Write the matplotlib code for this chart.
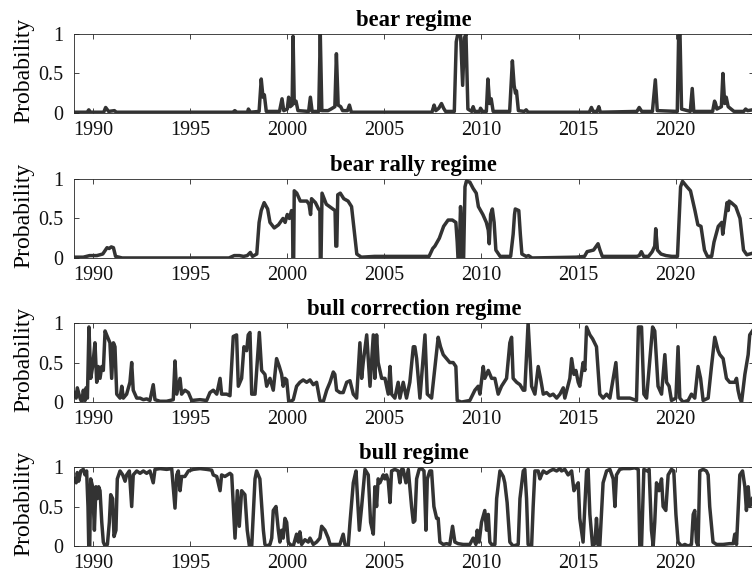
import matplotlib
matplotlib.use("Agg")
import matplotlib.pyplot as plt

plt.rcParams["font.family"] = ["Liberation Serif", "DejaVu Serif"]

# regime probabilities (decimal year, probability)
bear_years = [1989.0, 1989.7, 1989.78, 1989.87, 1990.55, 1990.65, 1990.8, 1991.1, 1991.2, 1997.2, 1997.3, 1997.4,
              1997.95, 1998.0, 1998.1, 1998.55, 1998.66, 1998.75, 1998.82, 1998.92, 1999.6, 1999.73, 1999.82, 2000.0,
              2000.07, 2000.15, 2000.25, 2000.3, 2000.36, 2000.45, 2000.55, 2001.1, 2001.19, 2001.28, 2001.62, 2001.7,
              2001.78, 2002.1, 2002.25, 2002.45, 2002.53, 2002.62, 2002.75, 2002.85, 2003.1, 2003.2, 2003.3, 2007.45,
              2007.56, 2007.65, 2007.8, 2007.94, 2008.05, 2008.15, 2008.6, 2008.7, 2008.78, 2008.92, 2009.03, 2009.12,
              2009.2, 2009.3, 2009.5, 2009.57, 2009.65, 2009.9, 2009.95, 2010.05, 2010.25, 2010.33, 2010.42, 2010.5,
              2010.6, 2011.45, 2011.59, 2011.68, 2011.75, 2011.8, 2011.9, 2012.2, 2012.3, 2012.4, 2015.55, 2015.66,
              2015.75, 2015.95, 2016.04, 2016.12, 2018.0, 2018.12, 2018.25, 2018.8, 2018.95, 2019.05, 2020.08, 2020.15,
              2020.22, 2020.3, 2020.75, 2020.85, 2020.93, 2021.9, 2022.0, 2022.05, 2022.12, 2022.35, 2022.43, 2022.52,
              2022.6, 2022.7, 2022.85, 2023.0, 2023.5, 2023.6, 2023.7, 2023.95]
bear_prob = [0.01, 0.01, 0.04, 0.01, 0.01, 0.07, 0.02, 0.03, 0.01, 0.01, 0.03, 0.01,
             0.01, 0.05, 0.01, 0.02, 0.43, 0.2, 0.23, 0.02, 0.02, 0.18, 0.03, 0.05,
             0.2, 0.08, 0.1, 0.97, 0.12, 0.15, 0.03, 0.02, 0.2, 0.02, 0.02, 1.0,
             0.03, 0.03, 0.05, 0.08, 0.75, 0.1, 0.08, 0.03, 0.03, 0.1, 0.01, 0.01,
             0.1, 0.03, 0.06, 0.12, 0.06, 0.02, 0.02, 0.9, 1.0, 1.0, 0.35, 0.95,
             1.0, 0.05, 0.02, 0.08, 0.02, 0.02, 0.06, 0.02, 0.02, 0.43, 0.12, 0.18,
             0.02, 0.02, 0.66, 0.35, 0.25, 0.28, 0.03, 0.02, 0.04, 0.01, 0.01, 0.07,
             0.02, 0.02, 0.08, 0.01, 0.02, 0.07, 0.02, 0.02, 0.42, 0.03, 0.02, 0.98,
             1.0, 0.05, 0.02, 0.31, 0.02, 0.02, 0.15, 0.12, 0.05, 0.08, 0.5, 0.12,
             0.2, 0.08, 0.05, 0.02, 0.02, 0.05, 0.03, 0.04]

rally_years = [1989.0, 1989.5, 1989.82, 1990.2, 1990.5, 1990.72, 1990.83, 1990.94, 1991.05, 1991.16, 1991.5, 1997.0,
               1997.27, 1997.54, 1997.75, 1997.94, 1998.1, 1998.21, 1998.43, 1998.55, 1998.66, 1998.81, 1998.99,
               1999.11, 1999.33, 1999.55, 1999.78, 1999.89, 2000.0, 2000.11, 2000.22, 2000.27, 2000.29, 2000.33,
               2000.36, 2000.49, 2000.67, 2001.01, 2001.12, 2001.2, 2001.25, 2001.45, 2001.61, 2001.68, 2001.7,
               2001.74, 2001.79, 2002.01, 2002.35, 2002.46, 2002.5, 2002.55, 2002.6, 2002.73, 2002.91, 2003.13,
               2003.31, 2003.47, 2003.58, 2003.81, 2004.5, 2006.6, 2007.3, 2007.49, 2007.6, 2007.83, 2008.05, 2008.28,
               2008.5, 2008.68, 2008.75, 2008.79, 2008.85, 2008.92, 2008.98, 2009.03, 2009.08, 2009.15, 2009.22,
               2009.4, 2009.57, 2009.73, 2009.84, 2010.07, 2010.25, 2010.35, 2010.4, 2010.47, 2010.56, 2010.65,
               2010.74, 2010.96, 2011.5, 2011.63, 2011.7, 2011.74, 2011.92, 2012.0, 2012.08, 2012.3, 2012.42, 2012.6,
               2014.88, 2015.3, 2015.44, 2015.77, 2016.0, 2016.1, 2016.22, 2018.0, 2018.12, 2018.23, 2018.35, 2018.6,
               2018.79, 2018.92, 2018.97, 2019.06, 2019.24, 2019.5, 2019.8, 2020.09, 2020.18, 2020.25, 2020.35,
               2020.58, 2020.76, 2020.99, 2021.14, 2021.3, 2021.48, 2021.63, 2021.85, 2021.97, 2022.19, 2022.37,
               2022.42, 2022.53, 2022.64, 2022.7, 2022.75, 2022.86, 2023.09, 2023.31, 2023.49, 2023.66, 2023.95]
rally_prob = [0.01, 0.01, 0.03, 0.03, 0.05, 0.13, 0.12, 0.14, 0.13, 0.02, 0.0, 0.0,
              0.03, 0.03, 0.02, 0.03, 0.07, 0.02, 0.05, 0.45, 0.6, 0.7, 0.62,
              0.45, 0.38, 0.42, 0.5, 0.45, 0.55, 0.5, 0.6, 0.55, 0.0, 0.0,
              0.85, 0.82, 0.72, 0.72, 0.68, 0.55, 0.75, 0.7, 0.62, 0.6, 0.0,
              0.0, 0.82, 0.68, 0.62, 0.6, 0.15, 0.15, 0.8, 0.82, 0.75, 0.72,
              0.65, 0.3, 0.05, 0.01, 0.02, 0.02, 0.02, 0.12, 0.15, 0.25, 0.4, 0.48,
              0.48, 0.45, 0.2, 0.0, 0.0, 0.65, 0.4, 0.0, 0.0, 0.9, 0.97,
              0.96, 0.88, 0.82, 0.65, 0.55, 0.45, 0.35, 0.18, 0.55, 0.62, 0.45,
              0.1, 0.02, 0.02, 0.3, 0.55, 0.62, 0.6, 0.3, 0.05, 0.02, 0.03, 0.0,
              0.01, 0.02, 0.08, 0.1, 0.18, 0.1, 0.02, 0.02, 0.03, 0.08, 0.02, 0.02,
              0.08, 0.15, 0.37, 0.1, 0.05, 0.03, 0.02, 0.02, 0.5, 0.9, 0.97,
              0.9, 0.85, 0.6, 0.42, 0.4, 0.1, 0.02, 0.02, 0.2, 0.4, 0.45,
              0.3, 0.5, 0.7, 0.6, 0.72, 0.7, 0.65, 0.5, 0.1, 0.04, 0.06]

corr_years = [1989.02, 1989.13, 1989.19, 1989.33, 1989.42, 1989.5, 1989.59, 1989.64, 1989.71, 1989.79, 1989.88,
              1989.98, 1990.1, 1990.19, 1990.27, 1990.36, 1990.45, 1990.53, 1990.62, 1990.7, 1990.87, 1990.96,
              1991.05, 1991.13, 1991.22, 1991.39, 1991.48, 1991.56, 1991.73, 1991.9, 1991.99, 1992.07, 1992.25,
              1992.42, 1992.59, 1992.76, 1992.93, 1993.1, 1993.19, 1993.45, 1993.79, 1994.13, 1994.22, 1994.31,
              1994.48, 1994.56, 1994.73, 1994.91, 1995.08, 1995.51, 1995.85, 1996.02, 1996.19, 1996.37, 1996.54,
              1996.62, 1996.88, 1997.05, 1997.22, 1997.39, 1997.48, 1997.65, 1997.77, 1997.91, 1997.99, 1998.08,
              1998.17, 1998.34, 1998.56, 1998.68, 1998.85, 1998.94, 1999.11, 1999.28, 1999.45, 1999.59, 1999.71,
              1999.79, 1999.88, 1999.97, 2000.07, 2000.14, 2000.31, 2000.48, 2000.65, 2000.82, 2001.0, 2001.17,
              2001.34, 2001.51, 2001.68, 2001.85, 2002.03, 2002.2, 2002.37, 2002.45, 2002.54, 2002.71, 2002.88,
              2003.06, 2003.23, 2003.4, 2003.57, 2003.74, 2003.83, 2003.91, 2004.09, 2004.26, 2004.43, 2004.51,
              2004.6, 2004.68, 2004.86, 2005.03, 2005.2, 2005.29, 2005.37, 2005.54, 2005.71, 2005.8, 2005.97,
              2006.14, 2006.31, 2006.49, 2006.57, 2006.66, 2006.83, 2007.09, 2007.21, 2007.43, 2007.77, 2007.89,
              2008.03, 2008.2, 2008.37, 2008.54, 2008.68, 2008.75, 2008.97, 2009.4, 2009.66, 2009.83, 2009.92,
              2010.09, 2010.17, 2010.35, 2010.52, 2010.69, 2010.86, 2011.03, 2011.29, 2011.46, 2011.55, 2011.63,
              2011.81, 2011.98, 2012.15, 2012.23, 2012.4, 2012.58, 2012.75, 2012.92, 2013.04, 2013.18, 2013.35,
              2013.52, 2013.69, 2013.87, 2014.04, 2014.21, 2014.29, 2014.55, 2014.64, 2014.76, 2014.86, 2014.98,
              2015.06, 2015.23, 2015.32, 2015.41, 2015.58, 2015.72, 2015.92, 2016.09, 2016.26, 2016.44, 2016.61,
              2016.78, 2016.92, 2017.04, 2017.29, 2017.64, 2017.98, 2018.08, 2018.24, 2018.36, 2018.5, 2018.81,
              2018.92, 2019.09, 2019.27, 2019.44, 2019.53, 2019.66, 2019.78, 2020.01, 2020.12, 2020.21, 2020.38,
              2020.64, 2020.81, 2020.98, 2021.15, 2021.28, 2021.41, 2021.67, 2021.84, 2022.01, 2022.18, 2022.27,
              2022.44, 2022.61, 2022.78, 2023.04, 2023.13, 2023.21, 2023.3, 2023.39, 2023.56, 2023.73, 2023.81,
              2023.95]
corr_prob = [0.12, 0.05, 0.18, 0.05, 0.0, 0.15, 0.02, 0.18, 0.05, 0.95, 0.3,
             0.45, 0.75, 0.25, 0.45, 0.3, 0.45, 0.4, 0.9, 0.85, 0.75, 0.3,
             0.75, 0.7, 0.1, 0.05, 0.2, 0.05, 0.1, 0.25, 0.5, 0.15, 0.05,
             0.05, 0.03, 0.04, 0.02, 0.22, 0.03, 0.01, 0.01, 0.03, 0.52, 0.1,
             0.3, 0.1, 0.15, 0.12, 0.02, 0.03, 0.02, 0.12, 0.15, 0.1, 0.3,
             0.1, 0.1, 0.08, 0.83, 0.85, 0.2, 0.3, 0.7, 0.65, 0.85, 0.88,
             0.1, 0.1, 0.88, 0.4, 0.35, 0.2, 0.3, 0.15, 0.55, 0.45, 0.35,
             0.2, 0.3, 0.28, 0.02, 0.0, 0.03, 0.2, 0.25, 0.28, 0.25, 0.28,
             0.22, 0.25, 0.02, 0.0, 0.15, 0.25, 0.38, 0.35, 0.15, 0.12, 0.12,
             0.25, 0.27, 0.1, 0.05, 0.75, 0.3, 0.5, 0.85, 0.2, 0.85, 0.3,
             0.85, 0.5, 0.3, 0.3, 0.1, 0.45, 0.1, 0.05, 0.25, 0.05, 0.25,
             0.05, 0.25, 0.7, 0.7, 0.55, 0.05, 0.85, 0.1, 0.05, 0.82, 0.7,
             0.6, 0.55, 0.5, 0.5, 0.45, 0.02, 0.0, 0.02, 0.15, 0.2, 0.1,
             0.45, 0.3, 0.4, 0.3, 0.3, 0.1, 0.2, 0.3, 0.75, 0.82, 0.3,
             0.25, 0.22, 0.15, 0.15, 1.0, 0.2, 0.1, 0.45, 0.3, 0.1, 0.12,
             0.08, 0.1, 0.05, 0.1, 0.18, 0.05, 0.3, 0.55, 0.35, 0.4, 0.25,
             0.2, 0.5, 0.4, 0.95, 0.85, 0.8, 0.7, 0.1, 0.05, 0.1, 0.05,
             0.3, 0.5, 0.05, 0.05, 0.05, 0.02, 0.95, 0.95, 0.1, 0.05, 0.95,
             0.9, 0.2, 0.1, 0.6, 0.25, 0.2, 0.02, 0.05, 0.7, 0.05, 0.0,
             0.02, 0.1, 0.05, 0.45, 0.3, 0.02, 0.05, 0.45, 0.82, 0.65, 0.6,
             0.55, 0.3, 0.25, 0.25, 0.3, 0.15, 0.05, 0.0, 0.35, 0.6, 0.85,
             0.9]

bull_years = [1989.02, 1989.13, 1989.19, 1989.26, 1989.37, 1989.5, 1989.59, 1989.67, 1989.74, 1989.78, 1989.83,
              1989.88, 1989.98, 1990.07, 1990.15, 1990.22, 1990.29, 1990.36, 1990.45, 1990.53, 1990.62, 1990.74,
              1990.84, 1990.91, 1991.01, 1991.08, 1991.18, 1991.25, 1991.39, 1991.53, 1991.65, 1991.73, 1991.87,
              1991.99, 1992.07, 1992.25, 1992.42, 1992.59, 1992.76, 1992.93, 1993.1, 1993.19, 1993.45, 1993.79,
              1994.05, 1994.22, 1994.31, 1994.39, 1994.48, 1994.56, 1994.73, 1994.91, 1995.16, 1995.51, 1995.85,
              1996.11, 1996.19, 1996.37, 1996.54, 1996.62, 1996.79, 1997.05, 1997.14, 1997.31, 1997.43, 1997.53,
              1997.65, 1997.82, 1997.94, 1998.05, 1998.17, 1998.34, 1998.42, 1998.59, 1998.77, 1998.85, 1998.94,
              1999.11, 1999.2, 1999.28, 1999.42, 1999.54, 1999.62, 1999.71, 1999.79, 1999.88, 1999.97, 2000.05,
              2000.14, 2000.31, 2000.48, 2000.57, 2000.65, 2000.74, 2000.91, 2001.08, 2001.17, 2001.34, 2001.51,
              2001.68, 2001.77, 2001.94, 2002.11, 2002.2, 2002.37, 2002.71, 2002.88, 2002.97, 2003.14, 2003.23,
              2003.4, 2003.54, 2003.71, 2003.83, 2004.0, 2004.17, 2004.29, 2004.43, 2004.51, 2004.6, 2004.68,
              2004.77, 2004.86, 2004.94, 2005.03, 2005.11, 2005.2, 2005.29, 2005.37, 2005.54, 2005.71, 2005.8,
              2005.89, 2005.97, 2006.11, 2006.23, 2006.4, 2006.49, 2006.57, 2006.66, 2006.79, 2006.92, 2007.04,
              2007.14, 2007.21, 2007.34, 2007.43, 2007.55, 2007.69, 2007.77, 2007.86, 2008.03, 2008.2, 2008.37,
              2008.51, 2008.63, 2008.8, 2009.06, 2009.4, 2009.57, 2009.71, 2009.78, 2009.88, 2010.0, 2010.17,
              2010.26, 2010.35, 2010.43, 2010.52, 2010.69, 2010.78, 2010.95, 2011.12, 2011.2, 2011.32, 2011.46,
              2011.63, 2011.89, 2011.98, 2012.15, 2012.23, 2012.32, 2012.4, 2012.58, 2012.66, 2012.75, 2012.92,
              2013.01, 2013.09, 2013.18, 2013.35, 2013.52, 2013.69, 2013.87, 2014.04, 2014.12, 2014.29, 2014.46,
              2014.64, 2014.76, 2014.86, 2014.98, 2015.06, 2015.23, 2015.41, 2015.49, 2015.58, 2015.72, 2015.84,
              2015.92, 2016.01, 2016.09, 2016.26, 2016.44, 2016.61, 2016.78, 2016.87, 2016.95, 2017.12, 2017.29,
              2017.64, 2017.9, 2018.07, 2018.15, 2018.24, 2018.36, 2018.53, 2018.63, 2018.75, 2018.84, 2018.92,
              2019.01, 2019.14, 2019.27, 2019.35, 2019.49, 2019.61, 2019.78, 2019.9, 2020.01, 2020.12, 2020.3,
              2020.47, 2020.64, 2020.81, 2020.9, 2020.98, 2021.07, 2021.15, 2021.24, 2021.41, 2021.58, 2021.67,
              2021.75, 2021.92, 2022.1, 2022.44, 2022.78, 2022.96, 2023.04, 2023.13, 2023.3, 2023.44, 2023.56,
              2023.64, 2023.73, 2023.81, 2023.95]
bull_prob = [0.85, 0.8, 0.93, 0.82, 0.95, 0.97, 0.9, 0.95, 0.5, 0.0, 0.0,
             0.85, 0.75, 0.2, 0.75, 0.6, 0.75, 0.7, 0.3, 0.05, 0.0, 0.02,
             0.3, 0.65, 0.6, 0.12, 0.2, 0.85, 0.95, 0.9, 0.82, 0.9, 0.95,
             0.5, 0.9, 0.95, 0.92, 0.95, 0.92, 0.95, 0.8, 0.97, 0.98, 0.97,
             0.98, 0.48, 0.9, 0.95, 0.7, 0.88, 0.88, 0.95, 0.97, 0.98, 0.97,
             0.96, 0.9, 0.88, 0.7, 0.9, 0.88, 0.92, 0.9, 0.1, 0.7, 0.25,
             0.7, 0.65, 0.2, 0.0, 0.0, 0.85, 0.95, 0.85, 0.2, 0.02, 0.0,
             0.02, 0.1, 0.45, 0.5, 0.2, 0.05, 0.2, 0.1, 0.35, 0.3, 0.05,
             0.02, 0.0, 0.15, 0.05, 0.18, 0.02, 0.08, 0.05, 0.1, 0.02, 0.05,
             0.1, 0.25, 0.2, 0.1, 0.02, 0.02, 0.02, 0.15, 0.02, 0.0, 0.3,
             0.8, 0.95, 0.2, 0.5, 0.97, 0.9, 0.3, 0.15, 0.75, 0.5, 0.85,
             0.8, 0.85, 0.9, 0.85, 0.9, 0.82, 0.55, 0.95, 0.97, 0.95, 0.8,
             0.97, 0.97, 0.8, 0.97, 0.5, 0.3, 0.32, 0.85, 0.97, 0.98, 0.95,
             0.2, 0.85, 0.95, 0.95, 0.5, 0.35, 0.35, 0.05, 0.02, 0.03, 0.02,
             0.25, 0.05, 0.03, 0.02, 0.02, 0.1, 0.02, 0.2, 0.05, 0.3, 0.45,
             0.2, 0.4, 0.05, 0.02, 0.02, 0.6, 0.95, 0.88, 0.8, 0.55, 0.05,
             0.0, 0.02, 0.6, 0.95, 0.97, 0.6, 0.02, 0.0, 0.5, 0.95, 0.95,
             0.85, 0.9, 0.95, 0.92, 0.95, 0.97, 0.95, 0.98, 0.95, 0.97, 0.9,
             0.95, 0.7, 0.75, 0.8, 0.35, 0.05, 0.95, 0.97, 0.4, 0.0, 0.03,
             0.35, 0.0, 0.0, 0.8, 0.95, 0.97, 0.85, 0.5, 0.9, 0.97, 0.98,
             0.98, 0.99, 0.97, 0.0, 0.0, 0.97, 0.95, 0.97, 0.2, 0.0, 0.3,
             0.8, 0.7, 0.85, 0.5, 0.45, 0.9, 0.97, 0.95, 0.4, 0.05, 0.0,
             0.02, 0.0, 0.02, 0.4, 0.45, 0.05, 0.0, 0.95, 0.97, 0.95, 0.9,
             0.5, 0.05, 0.02, 0.02, 0.03, 0.03, 0.15, 0.02, 0.9, 0.95, 0.75,
             0.45, 0.75, 0.5, 0.6]

titles = ["bear regime", "bear rally regime", "bull correction regime", "bull regime"]
series = [(bear_years, bear_prob), (rally_years, rally_prob), (corr_years, corr_prob), (bull_years, bull_prob)]
year_ticks = [1990, 1995, 2000, 2005, 2010, 2015, 2020]
prob_ticks = [0, 0.5, 1]
prob_labels = ["0", "0.5", "1"]

fig = plt.figure(figsize=(7.52, 5.81), dpi=100)
fig.patch.set_facecolor("white")
bottoms = [0.8055, 0.556, 0.308, 0.0602]

for (years, prob), title, bottom in zip(series, titles, bottoms):
    ax = fig.add_axes([0.0984, bottom, 0.904, 0.136])
    ax.plot(years, prob, color="#333333", lw=2.5, solid_joinstyle="round")
    ax.set_xlim(1989.02, 2024.02)
    ax.set_ylim(0, 1)
    ax.set_xticks(year_ticks)
    ax.set_yticks(prob_ticks)
    ax.set_yticklabels(prob_labels)
    ax.tick_params(direction="in", top=True, right=True, length=3.8, width=0.6,
                   color="#262626", labelsize=14.5, labelcolor="#111111")
    ax.tick_params(axis="x", pad=6)
    ax.tick_params(axis="y", pad=8)
    for sp in ax.spines.values():
        sp.set_linewidth(0.6)
        sp.set_color("#262626")
    ax.set_title(title, fontsize=16.3, fontweight="bold", pad=6)
    ax.set_ylabel("Probability", fontsize=17)
    ax.yaxis.set_label_coords(-0.058, 0.54)

fig.savefig("out.png", dpi=100)
